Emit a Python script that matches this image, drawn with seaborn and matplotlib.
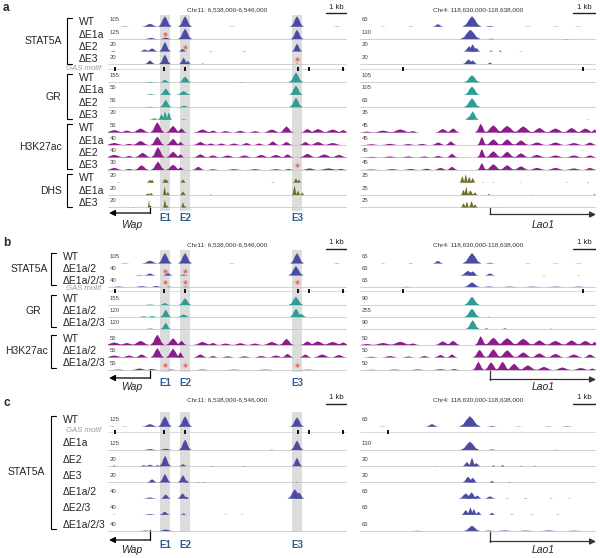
import seaborn as sns
from matplotlib import pyplot as plt

sns.set_theme(style="white")
plt.rcParams['font.family'] = ['Liberation Sans', 'DejaVu Sans']

# colours
C_STAT = "#4b4ba3"
C_GR = "#2e9e95"
C_H3 = "#8c1c8c"
C_DHS = "#6e6d26"
C_BAND = "#dcdcdc"
C_STAR = "#e05a50"
C_ENH = "#2d5d91"

# ---------------- genomic features (kb from left edge of each view) ----------------
WAP_SPAN = 11.38
LAO_SPAN = 10.26
WAP_TITLE = "Chr11: 6,538,000-6,546,000"
LAO_TITLE = "Chr4: 118,630,000-118,638,000"
ENHANCERS = ["E1", "E2", "E3"]
ENH_POS = [2.71, 3.67, 9.0]
ENH_BANDS = [(2.48, 2.95), (3.43, 3.90), (8.76, 9.24)]
WAP_TSS = 2.0
LAO_TSS = 5.65
GAS_WAP = [0.33, 2.67, 3.67, 9.05, 9.57, 11.19]
GAS_LAO = [1.87, 9.7]
GAS_LAO_C = [1.22]

# peak glyph used for every (centre, height, half-width) entry
PEAK_DX = [-1.0, -0.6, -0.3, 0.0, 0.3, 0.6, 1.0]
PEAK_DY = [0.0, 0.22, 0.68, 1.0, 0.68, 0.22, 0.0]

# ---------------- panel a ----------------
A_STAT_NAMES = ["WT", "ΔE1a", "ΔE2", "ΔE3"]
A_STAT_SCALE_WAP = [105, 125, 20, 20]
A_STAT_SCALE_LAO = [65, 130, 20, 20]
A_STAT_STARS = [[], [2.71], [3.67], [9.0]]
STAT_WT_WAP = [(0.8, 0.04, 0.3), (2.0, 0.28, 0.4), (2.71, 1.0, 0.33), (3.67, 1.0, 0.33),
               (5.9, 0.03, 0.2), (9.0, 1.0, 0.33), (10.9, 0.04, 0.2)]
STAT_WT_LAO = [(1.0, 0.03, 0.15), (2.2, 0.04, 0.15), (3.39, 0.25, 0.25), (4.87, 1.0, 0.42),
               (5.65, 0.08, 0.25), (7.3, 0.03, 0.2), (8.5, 0.03, 0.2), (9.5, 0.03, 0.2)]
A_STAT_WAP = [
    STAT_WT_WAP,
    [(2.05, 0.12, 0.35), (2.75, 0.15, 0.3), (3.67, 1.0, 0.33), (9.0, 0.9, 0.3)],
    [(0.25, 0.08, 0.15), (1.75, 0.2, 0.25), (2.1, 0.3, 0.3), (2.71, 0.9, 0.28), (3.55, 0.25, 0.2),
     (4.9, 0.05, 0.1), (6.5, 0.05, 0.1), (9.0, 0.75, 0.25)],
    [(2.0, 0.35, 0.25), (2.71, 0.9, 0.28), (3.6, 0.6, 0.22), (3.8, 0.3, 0.15), (4.5, 0.05, 0.1),
     (9.0, 0.05, 0.1)],
]
A_STAT_LAO = [
    STAT_WT_LAO,
    [(4.8, 0.9, 0.45), (5.7, 0.05, 0.2), (9.0, 0.02, 0.2)],
    [(4.75, 0.5, 0.25), (4.9, 0.7, 0.2), (5.05, 0.35, 0.2), (5.7, 0.1, 0.1), (6.1, 0.12, 0.08),
     (7.0, 0.03, 0.1)],
    [(4.72, 0.45, 0.25), (4.9, 0.35, 0.2), (5.65, 0.15, 0.12)],
]

A_GR_NAMES = ["WT", "ΔE1a", "ΔE2", "ΔE3"]
A_GR_SCALE_WAP = [155, 55, 55, 20]
A_GR_SCALE_LAO = [105, 105, 65, 35]
A_GR_WAP = [
    [(2.0, 0.06, 0.3), (2.71, 0.25, 0.25), (3.67, 0.55, 0.3), (6.3, 0.03, 0.15), (8.95, 0.95, 0.35)],
    [(2.05, 0.08, 0.3), (2.75, 0.6, 0.28), (3.6, 0.35, 0.35), (8.95, 0.9, 0.32)],
    [(2.0, 0.05, 0.3), (2.75, 0.7, 0.28), (3.62, 0.15, 0.3), (8.95, 0.9, 0.32)],
    [(2.2, 0.15, 0.25), (2.55, 0.5, 0.18), (2.72, 0.8, 0.15), (2.9, 0.7, 0.15), (3.6, 0.08, 0.15)],
]
A_GR_LAO = [
    [(4.87, 0.7, 0.36)],
    [(4.87, 0.8, 0.34)],
    [(4.87, 0.85, 0.36)],
    [(4.9, 0.8, 0.27), (4.75, 0.3, 0.2), (9.9, 0.05, 0.08)],
]

A_H3_NAMES = ["WT", "ΔE1a", "ΔE2", "ΔE3"]
A_H3_SCALE_WAP = [55, 40, 40, 30]
A_H3_SCALE_LAO = [45, 45, 45, 45]
A_H3_STARS = [[], [], [], [9.0]]
H3_WT_WAP = [(0.3, 0.25, 0.5), (0.9, 0.2, 0.4), (1.55, 0.4, 0.45), (2.35, 1.0, 0.35), (3.1, 0.65, 0.35),
             (3.5, 0.4, 0.25), (4.5, 0.3, 0.45), (5.0, 0.2, 0.3), (5.6, 0.15, 0.4), (6.3, 0.18, 0.4),
             (7.0, 0.15, 0.4), (7.8, 0.3, 0.45), (8.5, 0.6, 0.35), (9.5, 0.35, 0.35), (10.0, 0.35, 0.45),
             (10.7, 0.3, 0.5), (11.2, 0.25, 0.3)]
H3_WT_LAO = [(0.3, 0.1, 0.4), (1.0, 0.2, 0.5), (1.75, 0.32, 0.5), (2.3, 0.15, 0.3), (3.6, 0.35, 0.35),
             (4.05, 0.4, 0.3), (5.25, 0.85, 0.25), (5.8, 0.7, 0.4), (6.4, 0.65, 0.45), (7.1, 0.6, 0.45),
             (7.8, 0.45, 0.4), (8.5, 0.4, 0.45), (9.2, 0.45, 0.4), (9.8, 0.4, 0.4), (10.2, 0.3, 0.2)]
A_H3_WAP = [
    H3_WT_WAP,
    [(0.3, 0.2, 0.5), (1.0, 0.12, 0.3), (1.55, 0.4, 0.4), (2.35, 0.8, 0.33), (3.1, 0.6, 0.33),
     (3.45, 0.3, 0.2), (4.4, 0.3, 0.35), (4.9, 0.15, 0.3), (5.4, 0.15, 0.3), (6.0, 0.15, 0.35),
     (6.6, 0.2, 0.3), (7.2, 0.15, 0.3), (7.85, 0.35, 0.3), (8.5, 0.3, 0.3), (9.4, 0.3, 0.3),
     (10.0, 0.3, 0.4), (10.7, 0.2, 0.45)],
    [(0.3, 0.25, 0.5), (1.0, 0.15, 0.3), (1.65, 0.45, 0.4), (2.38, 1.0, 0.33), (3.1, 0.55, 0.35),
     (3.45, 0.3, 0.2), (4.4, 0.3, 0.35), (5.0, 0.2, 0.35), (5.7, 0.2, 0.4), (6.5, 0.2, 0.4),
     (7.3, 0.25, 0.4), (8.0, 0.25, 0.4), (8.55, 0.3, 0.3), (9.5, 0.35, 0.4), (10.3, 0.3, 0.45),
     (11.0, 0.25, 0.4)],
    [(0.3, 0.2, 0.4), (1.0, 0.1, 0.3), (1.6, 0.45, 0.35), (2.38, 0.8, 0.33), (3.1, 0.5, 0.35),
     (3.45, 0.25, 0.2), (4.3, 0.3, 0.3), (5.0, 0.08, 0.3), (6.0, 0.08, 0.4), (7.0, 0.08, 0.4),
     (8.0, 0.08, 0.4), (8.6, 0.1, 0.25), (9.6, 0.15, 0.4), (10.5, 0.15, 0.5), (11.1, 0.1, 0.3)],
]
A_H3_LAO = [
    H3_WT_LAO,
    [(0.5, 0.08, 0.4), (1.3, 0.12, 0.4), (2.1, 0.1, 0.35), (2.7, 0.12, 0.3), (3.4, 0.25, 0.3),
     (3.95, 0.35, 0.25), (5.3, 0.8, 0.2), (5.8, 0.55, 0.35), (6.4, 0.55, 0.35), (7.0, 0.45, 0.35),
     (7.7, 0.25, 0.4), (8.5, 0.25, 0.4), (9.3, 0.2, 0.4), (10.0, 0.25, 0.3)],
    [(0.5, 0.06, 0.4), (1.3, 0.1, 0.4), (2.1, 0.1, 0.35), (2.8, 0.1, 0.3), (3.4, 0.15, 0.3),
     (4.0, 0.35, 0.25), (5.3, 0.8, 0.2), (5.8, 0.6, 0.35), (6.4, 0.55, 0.35), (7.0, 0.4, 0.35),
     (7.7, 0.25, 0.4), (8.5, 0.2, 0.4), (9.3, 0.2, 0.4), (10.0, 0.2, 0.3)],
    [(0.5, 0.05, 0.4), (1.4, 0.08, 0.4), (2.2, 0.1, 0.35), (2.9, 0.12, 0.3), (3.5, 0.2, 0.3),
     (4.0, 0.3, 0.25), (5.3, 0.65, 0.2), (5.8, 0.55, 0.35), (6.4, 0.45, 0.35), (7.0, 0.35, 0.35),
     (7.7, 0.2, 0.4), (8.5, 0.2, 0.4), (9.3, 0.15, 0.4), (10.0, 0.2, 0.3)],
]

A_DHS_NAMES = ["WT", "ΔE1a", "ΔE3"]
A_DHS_SCALE_WAP = [20, 20, 20]
A_DHS_SCALE_LAO = [25, 25, 25]
A_DHS_WAP = [
    [(0.5, 0.05, 0.08), (2.0, 0.25, 0.18), (2.1, 0.3, 0.1), (2.71, 0.35, 0.15), (2.8, 0.3, 0.1),
     (3.57, 0.3, 0.15), (7.85, 0.05, 0.1), (8.95, 0.4, 0.15), (9.1, 0.3, 0.1)],
    [(1.9, 0.15, 0.15), (2.05, 0.2, 0.12), (2.7, 0.8, 0.1), (2.85, 0.3, 0.1), (3.57, 0.35, 0.15),
     (4.9, 0.05, 0.08), (8.88, 0.9, 0.12), (9.05, 0.4, 0.12), (9.25, 0.25, 0.1)],
    [(1.2, 0.05, 0.05), (1.95, 0.7, 0.06), (2.71, 0.7, 0.1), (2.8, 0.2, 0.12), (3.57, 0.5, 0.1),
     (3.65, 0.15, 0.1)],
]
A_DHS_LAO = [
    [(4.45, 0.6, 0.12), (4.6, 0.8, 0.1), (4.75, 0.55, 0.12), (4.9, 0.45, 0.12), (5.35, 0.05, 0.05),
     (5.8, 0.05, 0.05), (7.0, 0.04, 0.05), (9.0, 0.05, 0.05), (9.9, 0.08, 0.05)],
    [(4.5, 0.5, 0.12), (4.62, 0.8, 0.1), (4.8, 0.45, 0.15), (5.0, 0.25, 0.12), (5.6, 0.1, 0.08),
     (7.5, 0.04, 0.05), (10.2, 0.15, 0.04)],
    [(4.5, 0.4, 0.12), (4.65, 0.55, 0.1), (4.85, 0.6, 0.12), (5.0, 0.3, 0.12), (6.0, 0.03, 0.05)],
]

# ---------------- panel b ----------------
B_STAT_NAMES = ["WT", "ΔE1a/2", "ΔE1a/2/3"]
B_STAT_SCALE_WAP = [105, 40, 40]
B_STAT_SCALE_LAO = [65, 65, 65]
B_STAT_STARS = [[], [2.71, 3.67], [2.71, 3.67, 9.0]]
B_STAT_WAP = [
    STAT_WT_WAP,
    [(1.5, 0.05, 0.3), (2.0, 0.2, 0.3), (2.85, 0.25, 0.25), (3.6, 0.1, 0.25), (8.95, 0.9, 0.36)],
    [(0.5, 0.05, 0.4), (1.6, 0.08, 0.4), (2.3, 0.1, 0.3), (2.9, 0.05, 0.2), (3.7, 0.05, 0.2)],
]
B_STAT_LAO = [
    STAT_WT_LAO,
    [(4.7, 0.45, 0.35), (4.9, 0.4, 0.25), (5.65, 0.2, 0.25), (8.0, 0.03, 0.1), (9.5, 0.03, 0.1)],
    [(2.0, 0.03, 0.3), (4.87, 0.45, 0.35), (5.6, 0.06, 0.3), (6.5, 0.05, 0.4), (7.5, 0.05, 0.4),
     (8.5, 0.05, 0.4), (9.5, 0.05, 0.4)],
]

B_GR_NAMES = ["WT", "ΔE1a/2", "ΔE1a/2/3"]
B_GR_SCALE_WAP = [155, 120, 120]
B_GR_SCALE_LAO = [90, 255, 90]
B_GR_WAP = [
    [(2.0, 0.06, 0.3), (2.71, 0.2, 0.25), (3.67, 0.65, 0.3), (8.95, 0.8, 0.35)],
    [(1.7, 0.08, 0.25), (2.1, 0.1, 0.25), (2.75, 0.7, 0.26), (3.6, 0.25, 0.3), (8.95, 0.8, 0.3),
     (9.2, 0.3, 0.25)],
    [(2.0, 0.06, 0.25), (2.75, 0.6, 0.24)],
]
B_GR_LAO = [
    [(4.87, 0.8, 0.34)],
    [(4.87, 0.8, 0.34), (5.6, 0.04, 0.1)],
    [(4.9, 0.85, 0.3), (5.5, 0.1, 0.12), (6.3, 0.1, 0.12), (8.3, 0.04, 0.1)],
]

B_H3_NAMES = ["WT", "ΔE1a/2", "ΔE1a/2/3"]
B_H3_SCALE_WAP = [55, 55, 55]
B_H3_SCALE_LAO = [50, 50, 50]
B_H3_STARS = [[], [], [2.71, 3.67, 9.0]]
B_H3_WAP = [
    H3_WT_WAP,
    [(0.3, 0.2, 0.5), (1.0, 0.2, 0.4), (1.6, 0.3, 0.35), (2.35, 0.9, 0.33), (3.1, 0.85, 0.35),
     (3.45, 0.5, 0.2), (4.4, 0.3, 0.35), (5.0, 0.15, 0.3), (5.7, 0.12, 0.4), (6.5, 0.12, 0.4),
     (7.3, 0.15, 0.4), (8.0, 0.2, 0.4), (8.55, 0.35, 0.3), (9.4, 0.3, 0.3), (10.2, 0.3, 0.45),
     (11.0, 0.25, 0.4)],
    [(0.5, 0.05, 0.4), (1.5, 0.15, 0.4), (2.1, 0.1, 0.3), (3.0, 0.05, 0.3), (4.5, 0.05, 0.4),
     (6.0, 0.04, 0.5), (7.5, 0.04, 0.5), (9.5, 0.04, 0.5)],
]
B_H3_LAO = [
    H3_WT_LAO,
    [(0.5, 0.08, 0.4), (1.3, 0.15, 0.4), (2.1, 0.1, 0.35), (2.8, 0.15, 0.3), (3.5, 0.25, 0.3),
     (4.0, 0.3, 0.25), (5.2, 0.75, 0.3), (5.8, 0.8, 0.35), (6.4, 0.7, 0.4), (7.1, 0.5, 0.4),
     (7.8, 0.4, 0.4), (8.5, 0.35, 0.4), (9.3, 0.3, 0.4), (10.0, 0.3, 0.3)],
    [(0.5, 0.03, 0.4), (1.5, 0.05, 0.4), (2.5, 0.06, 0.4), (3.5, 0.08, 0.4), (4.1, 0.1, 0.25),
     (5.15, 0.8, 0.25), (5.7, 0.75, 0.3), (6.2, 0.8, 0.3), (6.7, 0.6, 0.35), (7.3, 0.45, 0.4),
     (8.0, 0.3, 0.4), (8.8, 0.25, 0.4), (9.6, 0.2, 0.4), (10.1, 0.15, 0.2)],
]

# ---------------- panel c ----------------
C_STAT_NAMES = ["WT", "ΔE1a", "ΔE2", "ΔE3", "ΔE1a/2", "ΔE2/3", "ΔE1a/2/3"]
C_STAT_SCALE_WAP = [125, 125, 20, 20, 40, 40, 40]
C_STAT_SCALE_LAO = [65, 130, 20, 20, 65, 65, 65]
C_STAT_WAP = [
    [(0.2, 0.03, 0.2), (0.8, 0.03, 0.2), (2.0, 0.25, 0.4), (2.71, 1.0, 0.33), (3.67, 1.0, 0.33),
     (9.0, 0.9, 0.33)],
    [(2.0, 0.1, 0.35), (2.75, 0.12, 0.35), (3.67, 1.0, 0.3), (7.8, 0.03, 0.15), (9.0, 0.9, 0.3)],
    [(0.3, 0.08, 0.1), (1.7, 0.1, 0.2), (2.0, 0.15, 0.25), (2.35, 0.1, 0.2), (2.72, 1.0, 0.28),
     (3.57, 0.2, 0.2), (4.95, 0.03, 0.1), (6.5, 0.03, 0.1), (9.0, 0.8, 0.25)],
    [(2.1, 0.3, 0.25), (2.71, 0.8, 0.28), (3.57, 0.7, 0.25), (3.75, 0.2, 0.12), (4.3, 0.05, 0.06),
     (4.6, 0.05, 0.06), (9.0, 0.05, 0.1)],
    [(2.0, 0.12, 0.35), (2.75, 0.4, 0.25), (3.55, 0.5, 0.25), (3.75, 0.2, 0.12), (8.9, 0.9, 0.35),
     (9.1, 0.6, 0.25)],
    [(0.3, 0.03, 0.1), (2.0, 0.08, 0.35), (2.7, 0.3, 0.25), (3.6, 0.15, 0.15), (5.6, 0.03, 0.1),
     (6.4, 0.03, 0.1)],
    [(1.8, 0.05, 0.35), (2.75, 0.15, 0.35)],
]
C_STAT_LAO = [
    [(1.0, 0.03, 0.2), (3.13, 0.25, 0.3), (4.78, 1.0, 0.48), (5.74, 0.07, 0.25), (6.9, 0.03, 0.2),
     (8.2, 0.04, 0.2), (9.0, 0.05, 0.3)],
    [(4.78, 0.8, 0.42), (5.74, 0.06, 0.2), (8.5, 0.02, 0.2)],
    [(3.3, 0.03, 0.05), (4.65, 0.4, 0.2), (4.87, 0.8, 0.16), (5.05, 0.3, 0.2), (5.8, 0.1, 0.1),
     (6.2, 0.12, 0.1), (7.0, 0.05, 0.08), (7.6, 0.05, 0.08)],
    [(4.7, 0.55, 0.25), (4.9, 0.45, 0.2), (5.74, 0.15, 0.12), (6.5, 0.04, 0.1)],
    [(4.6, 0.5, 0.3), (4.85, 0.6, 0.25), (5.1, 0.3, 0.2), (5.65, 0.22, 0.25), (6.4, 0.04, 0.1),
     (7.2, 0.05, 0.1), (8.3, 0.04, 0.1), (9.1, 0.03, 0.1)],
    [(4.6, 0.45, 0.2), (4.8, 0.7, 0.15), (4.95, 0.55, 0.15), (5.15, 0.3, 0.15), (5.74, 0.2, 0.15),
     (6.6, 0.05, 0.1), (7.5, 0.04, 0.1), (8.6, 0.04, 0.1)],
    [(2.5, 0.03, 0.3), (4.87, 0.5, 0.36), (5.6, 0.05, 0.3), (6.3, 0.06, 0.4), (7.2, 0.05, 0.4),
     (8.2, 0.06, 0.4), (9.3, 0.04, 0.4)],
]

# ---------------- layout (pixels of a 600x558 canvas) ----------------
W, H = 600, 558
TRACK_H = 10.5
WAP_X, WAP_W = 108, 239
LAO_X, LAO_W = 360, 236

fig = plt.figure(figsize=(6, 5.58), dpi=100)


def px_rect(x0, y0, w, h):
    return [x0 / W, 1 - (y0 + h) / H, w / W, h / H]


overlay = fig.add_axes([0, 0, 1, 1])
overlay.set_xlim(0, W)
overlay.set_ylim(H, 0)
overlay.axis('off')


def frame(x0, width, y0, y1, span):
    ax = fig.add_axes(px_rect(x0, y0, width, y1 - y0))
    ax.set_xlim(0, span)
    ax.set_ylim(y1, y0)
    ax.axis('off')
    return ax


def track(x0, width, base, span, peaks, color, scale, stars=()):
    ax = fig.add_axes(px_rect(x0, base - TRACK_H, width, TRACK_H + 0.6))
    ax.set_xlim(0, span)
    ax.set_ylim(-0.05, 1)
    ax.axis('off')
    ax.axhline(0, color="#c9c9c9", lw=0.6, zorder=0)
    for c, h, w in peaks:
        ax.fill([c + d * w for d in PEAK_DX], [h * f for f in PEAK_DY],
                color=color, lw=0, zorder=1)
    if stars:
        sns.scatterplot(x=list(stars), y=[0.45] * len(stars), marker='o', s=14,
                        color="#f3b5ae", linewidth=0, legend=False, ax=ax, zorder=3)
        sns.scatterplot(x=list(stars), y=[0.45] * len(stars), marker='*', s=12,
                        color=C_STAR, linewidth=0, legend=False, ax=ax, zorder=4)
    ax.text(0.006, 0.68, str(scale), transform=ax.transAxes, fontsize=4.3,
            color="#444444", va='center', ha='left')
    return ax


def gas_row(x0, width, y, span, marks):
    ax = fig.add_axes(px_rect(x0, y - 2, width, 4))
    ax.set_xlim(0, span)
    ax.set_ylim(-1, 1)
    ax.axis('off')
    ax.axhline(0, color="#d4d4d4", lw=0.6, zorder=0)
    sns.scatterplot(x=marks, y=[0] * len(marks), marker='|', s=10, color="black",
                    linewidth=1.3, legend=False, ax=ax, zorder=2)


def header(ax, y, span, title):
    ax.text(span / 2, y, title, fontsize=4.6, ha='center', va='center', color="#333333")
    ax.plot([span - 1, span], [y + 3.5, y + 3.5], color="#222222", lw=1.0)
    ax.text(span - 0.5, y - 2.5, "1 kb", fontsize=5.6, ha='center', va='center', color="#222222")


def bracket(x, y0, y1, tick=5):
    overlay.plot([x + tick, x, x, x + tick], [y0, y0, y1, y1], color="black", lw=0.8)


def draw_panel(letter, letter_y, top, bottom, title_y, band, groups, bases, gas_y,
               gas_lao, gene_y, name_x, name_dy, gas_text_y):
    fw = frame(WAP_X, WAP_W, top, bottom, WAP_SPAN)
    fl = frame(LAO_X, LAO_W, top, bottom, LAO_SPAN)
    # enhancer highlight bands
    for x0, x1 in ENH_BANDS:
        fw.fill_betweenx([band[0], band[1]], x0, x1, color=C_BAND, lw=0, zorder=0)
    header(fw, title_y, WAP_SPAN, WAP_TITLE)
    header(fl, title_y, LAO_SPAN, LAO_TITLE)
    overlay.text(3, letter_y, letter, fontsize=8.5, fontweight='bold', va='center', ha='left')

    i = 0
    for g_name, g_x, names, col, sw, pw, sl, pl, stars in groups:
        g_bases = bases[i:i + len(names)]
        for k, nm in enumerate(names):
            st = stars[k] if stars else []
            track(WAP_X, WAP_W, g_bases[k], WAP_SPAN, pw[k], col, sw[k], st)
            track(LAO_X, LAO_W, g_bases[k], LAO_SPAN, pl[k], col, sl[k])
            overlay.text(name_x, g_bases[k] + name_dy, nm, fontsize=7.5, va='center', ha='left')
        y0 = g_bases[0] + name_dy - 4
        y1 = g_bases[-1] + name_dy + 4
        bracket(name_x - 12, y0, y1)
        overlay.text(g_x, (y0 + y1) / 2, g_name, fontsize=7.5, va='center', ha='right')
        i += len(names)

    # GAS motif row
    gas_row(WAP_X, WAP_W, gas_y, WAP_SPAN, GAS_WAP)
    gas_row(LAO_X, LAO_W, gas_y, LAO_SPAN, gas_lao)
    overlay.text(101, gas_text_y, "GAS motif", fontsize=5.6, style='italic',
                 color="#9a9a9a", va='center', ha='right')

    # genes and enhancer names
    last = bases[-1]
    arrow_y, text_y = gene_y
    fw.plot([WAP_TSS, WAP_TSS], [last - 1.5, arrow_y], color="black", lw=0.9)
    fw.annotate('', xy=(0.05, arrow_y), xytext=(WAP_TSS, arrow_y),
                arrowprops=dict(arrowstyle='-|>', color="black", lw=0.9,
                                mutation_scale=9, shrinkA=0, shrinkB=0))
    fw.text(1.15, text_y, "Wap", fontsize=7.5, style='italic', ha='center', va='center')
    fl.plot([LAO_TSS, LAO_TSS], [last, arrow_y + 1.5], color="#333333", lw=0.9)
    fl.annotate('', xy=(LAO_SPAN, arrow_y + 1.5), xytext=(LAO_TSS, arrow_y + 1.5),
                arrowprops=dict(arrowstyle='-|>', color="#333333", lw=0.9,
                                mutation_scale=9, shrinkA=0, shrinkB=0))
    fl.text(7.96, text_y, "Lao1", fontsize=7.5, style='italic', ha='center', va='center')
    for e, x in zip(ENHANCERS, ENH_POS):
        fw.text(x, arrow_y + 5, e, fontsize=7, fontweight='bold', color=C_ENH,
                ha='center', va='center')


A_BASE = [26.7, 39.1, 51.5, 64.0, 82.4, 94.8, 107.2, 119.7, 132.6, 145.0, 157.4, 169.9,
          182.6, 195.0, 207.4]
B_BASE = [263.5, 275.5, 287.0, 305.0, 317.0, 329.0, 345.0, 357.5, 370.0]
C_BASE = [426.7, 450.0, 466.2, 482.4, 498.6, 514.8, 531.0]

draw_panel(
    "a", 8, 0, 232, 10, (15, 211),
    [("STAT5A", 62, A_STAT_NAMES, C_STAT, A_STAT_SCALE_WAP, A_STAT_WAP, A_STAT_SCALE_LAO, A_STAT_LAO, A_STAT_STARS),
     ("GR", 61, A_GR_NAMES, C_GR, A_GR_SCALE_WAP, A_GR_WAP, A_GR_SCALE_LAO, A_GR_LAO, None),
     ("H3K27ac", 62, A_H3_NAMES, C_H3, A_H3_SCALE_WAP, A_H3_WAP, A_H3_SCALE_LAO, A_H3_LAO, A_H3_STARS),
     ("DHS", 62, A_DHS_NAMES, C_DHS, A_DHS_SCALE_WAP, A_DHS_WAP, A_DHS_SCALE_LAO, A_DHS_LAO, None)],
    A_BASE, 68.5, GAS_LAO, (213, 225), 79, -4.5, 68)

draw_panel(
    "b", 243, 234, 392, 245, (250, 372),
    [("STAT5A", 48, B_STAT_NAMES, C_STAT, B_STAT_SCALE_WAP, B_STAT_WAP, B_STAT_SCALE_LAO, B_STAT_LAO, B_STAT_STARS),
     ("GR", 41, B_GR_NAMES, C_GR, B_GR_SCALE_WAP, B_GR_WAP, B_GR_SCALE_LAO, B_GR_LAO, None),
     ("H3K27ac", 48, B_H3_NAMES, C_H3, B_H3_SCALE_WAP, B_H3_WAP, B_H3_SCALE_LAO, B_H3_LAO, B_H3_STARS)],
    B_BASE, 290.8, GAS_LAO, (378, 387), 63, -6.5, 289)

draw_panel(
    "c", 403, 394, 558, 400, (412, 532),
    [("STAT5A", 45, C_STAT_NAMES, C_STAT, C_STAT_SCALE_WAP, C_STAT_WAP,
      C_STAT_SCALE_LAO, C_STAT_LAO, None)],
    C_BASE, 432, GAS_LAO_C, (540, 550), 63, -6.5, 430)

fig.savefig("out.png", dpi=100)
